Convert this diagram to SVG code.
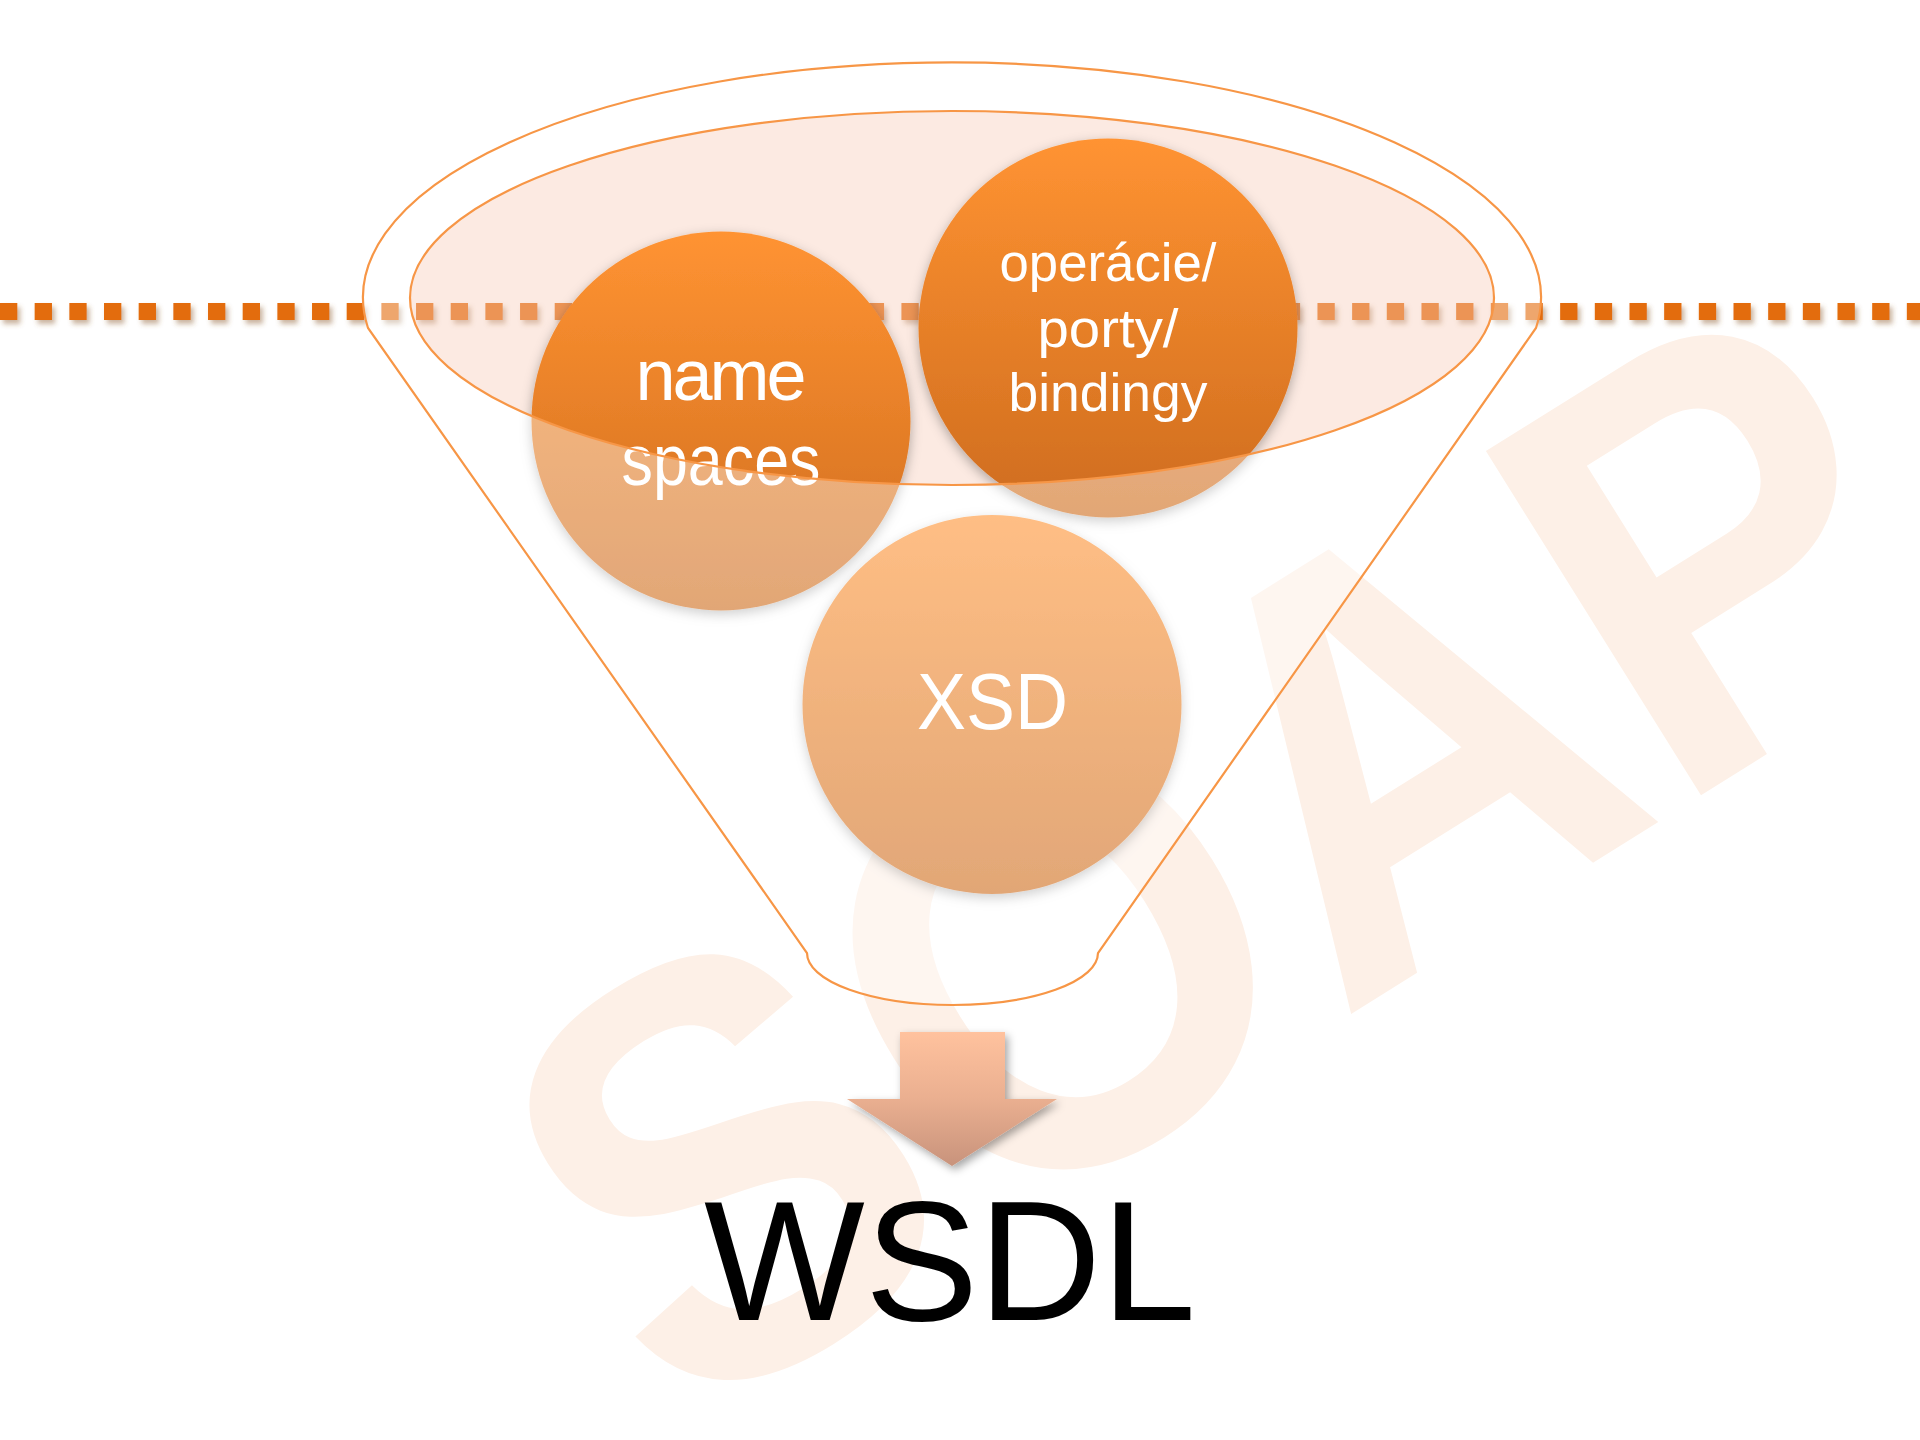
<svg xmlns="http://www.w3.org/2000/svg" width="1920" height="1440" viewBox="0 0 1920 1440">
  <defs>
    <linearGradient id="gCircle" x1="0" y1="0" x2="0" y2="1">
      <stop offset="0" stop-color="#FF9332"/>
      <stop offset="1" stop-color="#CE6C1E"/>
    </linearGradient>
    <linearGradient id="gArrow" x1="0" y1="1032" x2="0" y2="1166" gradientUnits="userSpaceOnUse">
      <stop offset="0" stop-color="#FFC29E"/>
      <stop offset="0.5" stop-color="#EAAF90"/>
      <stop offset="1" stop-color="#C8937C"/>
    </linearGradient>
    <filter id="fDots" filterUnits="userSpaceOnUse" x="-20" y="280" width="1960" height="70">
      <feDropShadow dx="3" dy="4" stdDeviation="2.5" flood-color="#8B5A2B" flood-opacity="0.45"/>
    </filter>
    <filter id="fCircle" x="-20%" y="-20%" width="140%" height="140%">
      <feDropShadow dx="0" dy="4" stdDeviation="6" flood-color="#000000" flood-opacity="0.3"/>
    </filter>
    <filter id="fArrow" x="-20%" y="-20%" width="140%" height="140%">
      <feDropShadow dx="3" dy="4" stdDeviation="4" flood-color="#000000" flood-opacity="0.35"/>
    </filter>
    <style>
      .label { font-family: "Liberation Sans", Arial, sans-serif; fill: #FFFFFF; text-anchor: middle; }
      .outline { fill: none; stroke: #F79646; stroke-width: 2.2; }
      .bubble { fill: url(#gCircle); filter: url(#fCircle); }
    </style>
  </defs>

  <rect width="1920" height="1440" fill="#FFFFFF"/>

  <!-- watermark -->
  <g id="watermark">
    <text transform="translate(1327,1029) rotate(-32)" x="0" y="0" text-anchor="middle" font-family="'Liberation Sans', Arial, sans-serif" font-weight="bold" font-size="590" textLength="1530" lengthAdjust="spacingAndGlyphs" fill="#FDF0E7">SOAP</text>
  </g>

  <!-- dotted line -->
  <g id="dotted-line">
    <line x1="0" y1="311.5" x2="1920" y2="311.5" stroke="#E36C0E" stroke-width="17" stroke-dasharray="17.3 17.37" filter="url(#fDots)"/>
  </g>

  <!-- funnel opening fill -->
  <g id="funnel-opening">
    <ellipse cx="952" cy="298" rx="542" ry="187" fill="#F8CEBB" fill-opacity="0.42"/>
  </g>

  <!-- nodes -->
  <g id="node-namespaces">
    <circle class="bubble" cx="721" cy="421" r="189.5"/>
    <text class="label" font-size="72" x="721" y="400" textLength="171">name</text>
    <text class="label" font-size="72" x="721" y="485" textLength="199" lengthAdjust="spacingAndGlyphs">spaces</text>
  </g>
  <g id="node-operacie">
    <circle class="bubble" cx="1108" cy="328" r="189.5"/>
    <text class="label" font-size="54" x="1108" y="281" textLength="217" lengthAdjust="spacingAndGlyphs">operácie/</text>
    <text class="label" font-size="54" x="1108" y="347" textLength="141" lengthAdjust="spacingAndGlyphs">porty/</text>
    <text class="label" font-size="54" x="1108" y="411" textLength="199" lengthAdjust="spacingAndGlyphs">bindingy</text>
  </g>
  <g id="node-xsd">
    <circle class="bubble" cx="992" cy="704.5" r="189.5"/>
    <text class="label" font-size="80" x="992.5" y="729" textLength="151" lengthAdjust="spacingAndGlyphs">XSD</text>
  </g>

  <!-- funnel body (veil + outlines) -->
  <g id="node-funnel">
    <path d="M 368,328 A 589 235 0 1 1 1536,328 L 1098,953 A 145.5 52 0 0 1 807,953 Z M 410,298 A 542 187 0 1 0 1494,298 A 542 187 0 1 0 410,298 Z" fill="#FFFFFF" fill-opacity="0.4" fill-rule="evenodd"/>
    <path class="outline" d="M 368,328 A 589 235 0 1 1 1536,328 L 1098,953 A 145.5 52 0 0 1 807,953 Z"/>
    <ellipse class="outline" cx="952" cy="298" rx="542" ry="187"/>
  </g>

  <!-- connectors -->
  <g id="connectors">
    <path d="M 900,1032 L 1005,1032 L 1005,1099 L 1057,1099 L 952,1166 L 847,1099 L 900,1099 Z" fill="url(#gArrow)" filter="url(#fArrow)"/>
  </g>

  <g id="node-wsdl">
    <text x="704" y="1320" font-family="'Liberation Sans', Arial, sans-serif" font-size="170" textLength="492" lengthAdjust="spacingAndGlyphs" fill="#000000">WSDL</text>
  </g>
</svg>
